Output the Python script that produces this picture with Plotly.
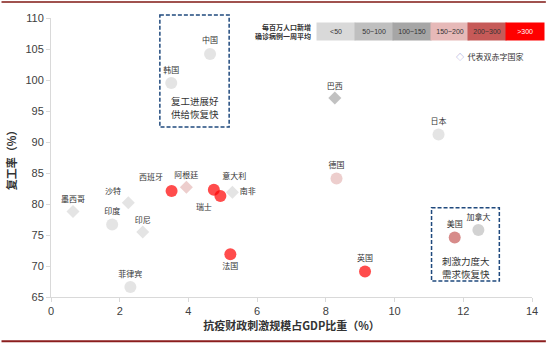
import plotly.graph_objects as go

# ---------------- data ----------------
countries = ["中国", "韩国", "巴西", "日本", "德国", "西班牙", "阿根廷", "意大利", "瑞士", "南非",
             "墨西哥", "沙特", "印度", "印尼", "法国", "菲律宾", "英国", "美国", "加拿大"]
stimulus_pct = [4.63, 3.50, 8.26, 11.28, 8.31, 3.51, 3.94, 4.74, 4.93, 5.28,
                0.64, 2.25, 1.78, 2.67, 5.22, 2.31, 9.14, 11.75, 12.44]
resume_rate = [104.2, 99.5, 97.1, 91.2, 84.1, 82.1, 82.7, 82.3, 81.3, 81.9,
               78.8, 80.2, 76.7, 75.5, 71.9, 66.6, 69.1, 74.6, 75.8]
case_class = ["<50", "<50", "100~150", "<50", "150~200", ">300", "150~200", ">300", ">300", "<50",
              "<50", "<50", "<50", "<50", ">300", "<50", ">300", "200~300", "50~100"]
double_deficit = [False, False, True, False, False, False, True, False, False, True,
                  True, True, False, True, False, False, False, False, False]
class_labels = ["<50", "50~100", "100~150", "150~200", "200~300", ">300"]
x_ticks = [0, 2, 4, 6, 8, 10, 12, 14]
y_ticks = [65, 70, 75, 80, 85, 90, 95, 100, 105, 110]

# ---------------- styles ----------------
class_colors = {"<50": "#D9D9D9", "50~100": "#BFBFBF", "100~150": "#A6A6A6",
                "150~200": "#E6B9B8", "200~300": "#C65A58", ">300": "#FF0000"}
label_pos = {"瑞士": "bottom left", "南非": "middle right", "法国": "bottom center",
             "沙特": "top left", "西班牙": "top left", "意大利": "top right"}
CJK = "Noto Sans CJK SC"
NUM = "Liberation Sans, Arial"

L, R, T, B = 50, 14, 17, 46
W, H = 550, 343
PW, PH = W - L - R, H - T - B


def px(xp):
    return (xp - L) / PW


def py(yp):
    return (H - B - yp) / PH


fig = go.Figure()
fig.add_trace(go.Scatter(
    x=stimulus_pct, y=resume_rate, mode="markers+text",
    text=countries,
    textposition=[label_pos.get(c, "top center") for c in countries],
    textfont=dict(family=CJK, size=8, color="#333333"),
    marker=dict(
        symbol=["diamond" if d else "circle" for d in double_deficit],
        size=[10 if d else 12 for d in double_deficit],
        color=[class_colors[c] for c in case_class],
        line=dict(width=0)),
    cliponaxis=False, showlegend=False, hoverinfo="skip"))

shapes = []
annotations = []

# top and bottom border lines
shapes.append(dict(type="line", xref="paper", yref="paper", x0=px(0), x1=px(W), y0=py(1), y1=py(1),
                   line=dict(color="#A0524F", width=2)))
shapes.append(dict(type="line", xref="paper", yref="paper", x0=px(0), x1=px(W), y0=py(341.5), y1=py(341.5),
                   line=dict(color="#8B1E1E", width=2)))

# dashed boxes
box_color = "#1F497D"
box_dash = "4px,2px"
shapes.append(dict(type="rect", xref="paper", yref="paper", x0=px(160), x1=px(230), y0=py(14), y1=py(126.5),
                   line=dict(color=box_color, width=1.5, dash=box_dash)))
shapes.append(dict(type="rect", xref="paper", yref="paper", x0=px(434.5), x1=px(503), y0=py(207.5), y1=py(281),
                   line=dict(color=box_color, width=1.5, dash=box_dash)))
box_texts = [(195, 100.5, "复工进展好"), (195, 113.5, "供给恢复快"),
             (469.5, 260.5, "刺激力度大"), (469.5, 273.5, "需求恢复快")]
for bx, by, txt in box_texts:
    annotations.append(dict(xref="paper", yref="paper", x=px(bx), y=py(by), text=txt,
                            showarrow=False, font=dict(family=CJK, size=9.5, color="#333333"),
                            height=12, borderpad=0,
                            xanchor="center", yanchor="middle"))

# color legend strip
bw = 38.2
for i, lab in enumerate(class_labels):
    cx = 319 + bw * (i + 0.5)
    annotations.append(dict(xref="paper", yref="paper", x=px(cx), y=py(30.5), text=lab,
                            showarrow=False, bgcolor=class_colors[lab], width=bw, height=17, borderpad=0,
                            font=dict(family=NUM, size=7, color="#FFFFFF" if lab == ">300" else "#333333"),
                            xanchor="center", yanchor="middle", align="center"))
annotations.append(dict(xref="paper", yref="paper", x=px(315), y=py(30.5),
                        text="<b>每百万人口新增</b><br><b>确诊病例一周平均</b>",
                        showarrow=False, font=dict(family=CJK, size=7, color="#333333"),
                        xanchor="right", yanchor="middle", align="right"))
annotations.append(dict(xref="paper", yref="paper", x=px(457), y=py(56),
                        text="<span style='color:#8E8ED0'>◇</span>  代表双赤字国家",
                        showarrow=False, font=dict(family=CJK, size=8, color="#333333"),
                        xanchor="left", yanchor="middle"))

axis_common = dict(showline=True, linecolor="#D9D9D9", linewidth=1, showgrid=False, zeroline=False,
                   ticks="outside", ticklen=4, tickcolor="#D9D9D9",
                   tickfont=dict(family=NUM, size=11, color="#404040"))

fig.update_layout(
    width=W, height=H, margin=dict(l=L, r=R, t=T, b=B),
    paper_bgcolor="white", plot_bgcolor="white",
    xaxis=dict(range=[0, 14], tickvals=x_ticks,
               title=dict(text="<b>抗疫财政刺激规模占GDP比重（%）</b>", standoff=4,
                          font=dict(family=CJK, size=11, color="#333333")),
               **axis_common),
    yaxis=dict(range=[65, 110], tickvals=y_ticks,
               title=dict(text="<b>复工率（%）</b>", standoff=6,
                          font=dict(family=CJK, size=11, color="#333333")),
               **axis_common),
    shapes=shapes, annotations=annotations,
)

fig.write_html("out.html")
